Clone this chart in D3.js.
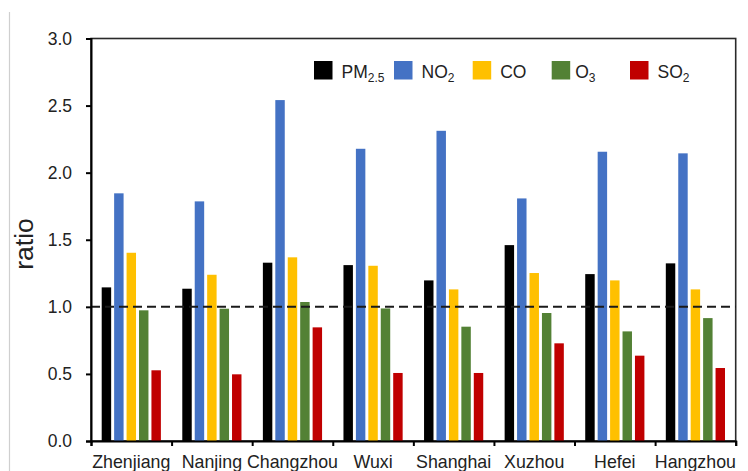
<!DOCTYPE html>
<html>
<head>
<meta charset="utf-8">
<script src="https://cdn.jsdelivr.net/npm/d3@7"></script>
<style>
  html, body { margin: 0; padding: 0; background: #fff; }
  svg { display: block; font-family: "Liberation Sans", Arial, sans-serif; }
</style>
</head>
<body>
<svg id="chart" width="748" height="471"></svg>
<script>
// Cities on the x axis
const cities = ["Zhenjiang", "Nanjing", "Changzhou", "Wuxi", "Shanghai", "Xuzhou", "Hefei", "Hangzhou"];

// Pollutant series (name, subscript) and colours
const seriesKeys = ["PM2.5", "NO2", "CO", "O3", "SO2"];
const seriesBase = ["PM", "NO", "CO", "O", "SO"];
const seriesSub  = ["2.5", "2", "", "3", "2"];
const seriesColors = ["#000000", "#4472C4", "#FFC000", "#538135", "#C00000"];

// Ratio values per pollutant, one per city
const pm25 = [1.145, 1.135, 1.329, 1.311, 1.197, 1.460, 1.244, 1.324];
const no2  = [1.846, 1.786, 2.541, 2.178, 2.312, 1.808, 2.156, 2.144];
const co   = [1.403, 1.239, 1.369, 1.306, 1.130, 1.252, 1.197, 1.130];
const o3   = [0.974, 0.986, 1.036, 0.988, 0.852, 0.954, 0.817, 0.916];
const so2  = [0.527, 0.497, 0.847, 0.507, 0.507, 0.728, 0.636, 0.544];

// Y axis ticks
const yTicks = [0.0, 0.5, 1.0, 1.5, 2.0, 2.5, 3.0];
const refLine = 1.0;

const seriesValues = [pm25, no2, co, o3, so2];

const svg = d3.select("#chart");
const margin = { left: 91, right: 12.3, top: 38.5, bottom: 30 };
const W = 748, H = 471;
const x0 = margin.left, x1 = W - margin.right;
const y0 = H - margin.bottom, y1 = margin.top;

// thin grey rule at far left
svg.append("line")
  .attr("x1", 9.5).attr("x2", 9.5).attr("y1", 12).attr("y2", H)
  .attr("stroke", "#cfcfcf").attr("stroke-width", 1.2);

const xCity = d3.scaleBand().domain(cities).range([x0, x1]).paddingInner(0).paddingOuter(0);
const gap = 10.7;
const xSeries = d3.scaleBand().domain(seriesKeys)
  .range([gap, xCity.bandwidth() - gap]).paddingInner(0.24).paddingOuter(0);
const y = d3.scaleLinear().domain([0, 3]).range([y0, y1]);

// plot frame
svg.append("rect")
  .attr("x", x0).attr("y", y1).attr("width", x1 - x0).attr("height", y0 - y1)
  .attr("fill", "none").attr("stroke", "#2a2a2a").attr("stroke-width", 1.6);

// bars
const groups = svg.append("g").selectAll("g")
  .data(cities).join("g")
  .attr("transform", c => `translate(${xCity(c)},0)`);

groups.selectAll("rect")
  .data((c, ci) => seriesKeys.map((k, si) => ({ k, si, v: seriesValues[si][ci] })))
  .join("rect")
  .attr("x", d => xSeries(d.k))
  .attr("width", xSeries.bandwidth())
  .attr("y", d => y(d.v))
  .attr("height", d => y(0) - y(d.v))
  .attr("fill", d => seriesColors[d.si]);

// reference line at ratio = 1
svg.append("line")
  .attr("x1", x0).attr("x2", x1)
  .attr("y1", y(refLine)).attr("y2", y(refLine))
  .attr("stroke", "#1a1a1a").attr("stroke-width", 2)
  .attr("stroke-dasharray", "9,5");

// y axis
const yAxis = d3.axisLeft(y).tickValues(yTicks).tickFormat(d3.format(".1f"))
  .tickSize(5).tickPadding(14);
const gy = svg.append("g").attr("transform", `translate(${x0},0)`).call(yAxis);
gy.select(".domain").attr("stroke", "#000").attr("stroke-width", 2);
gy.selectAll(".tick line").attr("stroke", "#000").attr("stroke-width", 2);
gy.selectAll(".tick text").attr("font-size", 17.5).attr("fill", "#222")
  .attr("font-family", "Liberation Sans, Arial, sans-serif");

// x axis: ticks on category boundaries
const boundaryScale = d3.scaleLinear().domain([0, cities.length]).range([x0, x1]);
const gx = svg.append("g").attr("transform", `translate(0,${y0})`)
  .call(d3.axisBottom(boundaryScale).tickValues(d3.range(cities.length + 1))
    .tickSize(5).tickFormat(""));
gx.select(".domain").attr("stroke", "#000").attr("stroke-width", 2);
gx.selectAll(".tick line").attr("stroke", "#000").attr("stroke-width", 2);

svg.append("g").selectAll("text")
  .data(cities).join("text")
  .attr("x", c => xCity(c) + xCity.bandwidth() / 2)
  .attr("y", 467.5)
  .attr("text-anchor", "middle")
  .attr("font-size", 17.8)
  .attr("fill", "#222")
  .text(c => c);

// y axis title
svg.append("text")
  .attr("transform", `translate(33,244) rotate(-90)`)
  .attr("text-anchor", "middle")
  .attr("font-size", 26.5)
  .attr("fill", "#222")
  .text("ratio");

// legend
const legendX = [314, 394, 472.7, 551.7, 630];
const legend = svg.append("g").selectAll("g")
  .data(seriesKeys).join("g")
  .attr("transform", (d, i) => `translate(${legendX[i]},61)`);
legend.append("rect")
  .attr("width", 18.5).attr("height", 18.5)
  .attr("fill", (d, i) => seriesColors[i]);
const lt = legend.append("text")
  .attr("x", (d, i) => i === 3 ? 23.5 : 27.5)
  .attr("y", 17.3)
  .attr("font-size", 17.5)
  .attr("fill", "#222");
lt.append("tspan").text((d, i) => seriesBase[i]);
lt.append("tspan")
  .attr("dy", 4)
  .attr("font-size", 12)
  .text((d, i) => seriesSub[i]);
</script>
</body>
</html>
